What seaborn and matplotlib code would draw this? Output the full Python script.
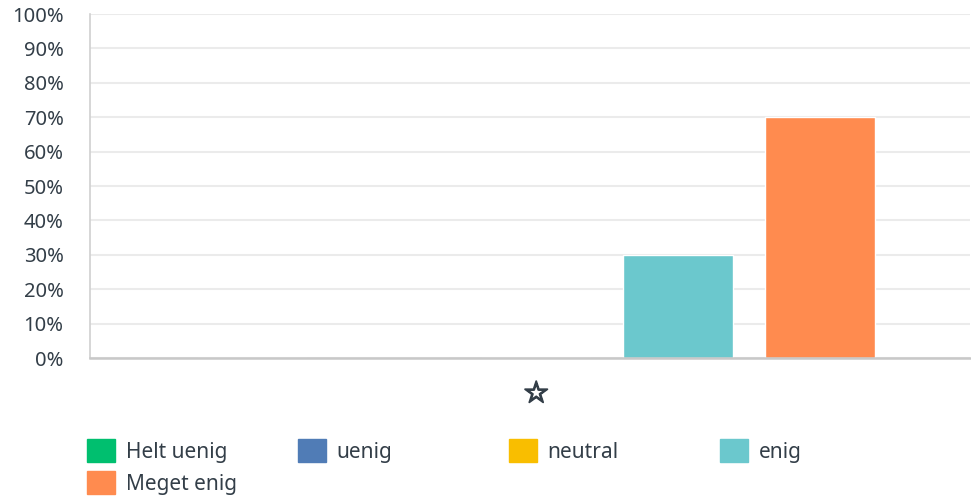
import pandas as pd
import matplotlib.pyplot as plt
import matplotlib.patheffects as pe
import seaborn as sns
from matplotlib.patches import Patch
from matplotlib.ticker import PercentFormatter

# data
question = ['☆']
responses = ['Helt uenig', 'uenig', 'neutral', 'enig', 'Meget enig']
shares = [0, 0, 0, 30, 70]
colors = ['#00BF6F', '#507CB6', '#F9BE00', '#6BC8CD', '#FF8B4F']

df = pd.DataFrame({'q': question * len(responses), 'svar': responses, 'pct': shares})

sns.set_style('white')
plt.rcParams['font.family'] = ['Noto Sans', 'DejaVu Sans']
text_col = '#333e48'

fig = plt.figure(figsize=(9.71, 5.0), dpi=100)
ax = fig.add_axes([90 / 971, 1 - 358 / 500, 880 / 971, 344 / 500])

sns.barplot(data=df, x='q', y='pct', hue='svar', hue_order=responses,
            palette=colors, width=0.8, gap=0.225, saturation=1,
            legend=False, ax=ax)

ax.set_xlim(-0.503, 0.489)
ax.set_ylim(0, 100)
ax.set_yticks(range(0, 101, 10))
ax.yaxis.set_major_formatter(PercentFormatter(decimals=0))
ax.set_xlabel('')
ax.set_ylabel('')
ax.grid(axis='y', color='#ebebeb', linewidth=1.5)
ax.set_axisbelow(True)
for s in ['top', 'right']:
    ax.spines[s].set_visible(False)
ax.spines['left'].set_color('#d0d0d0')
ax.spines['left'].set_linewidth(1.2)
ax.spines['bottom'].set_color('#c8c8c8')
ax.spines['bottom'].set_linewidth(1.8)
ax.tick_params(axis='y', length=0, pad=19, labelsize=14.5, labelcolor=text_col)
ax.tick_params(axis='x', length=0, pad=16, labelsize=21, labelcolor=text_col)
for t in ax.get_xticklabels():
    t.set_family(['DejaVu Sans'])
    t.set_path_effects([pe.withStroke(linewidth=1.3, foreground=text_col)])

# legend, laid out row by row like the original
for i, (lab, c) in enumerate(zip(responses, colors)):
    col, row = i % 4, i // 4
    fig.legend(handles=[Patch(facecolor=c, edgecolor=c)], labels=[lab],
               loc='upper left',
               bbox_to_anchor=((87 + col * 211) / 971, 1 - (439 + row * 32) / 500),
               frameon=False, borderpad=0, borderaxespad=0,
               handlelength=1.35, handleheight=1.35, handletextpad=0.5,
               labelcolor=text_col, fontsize=15)

plt.savefig('out.png', dpi=100)
